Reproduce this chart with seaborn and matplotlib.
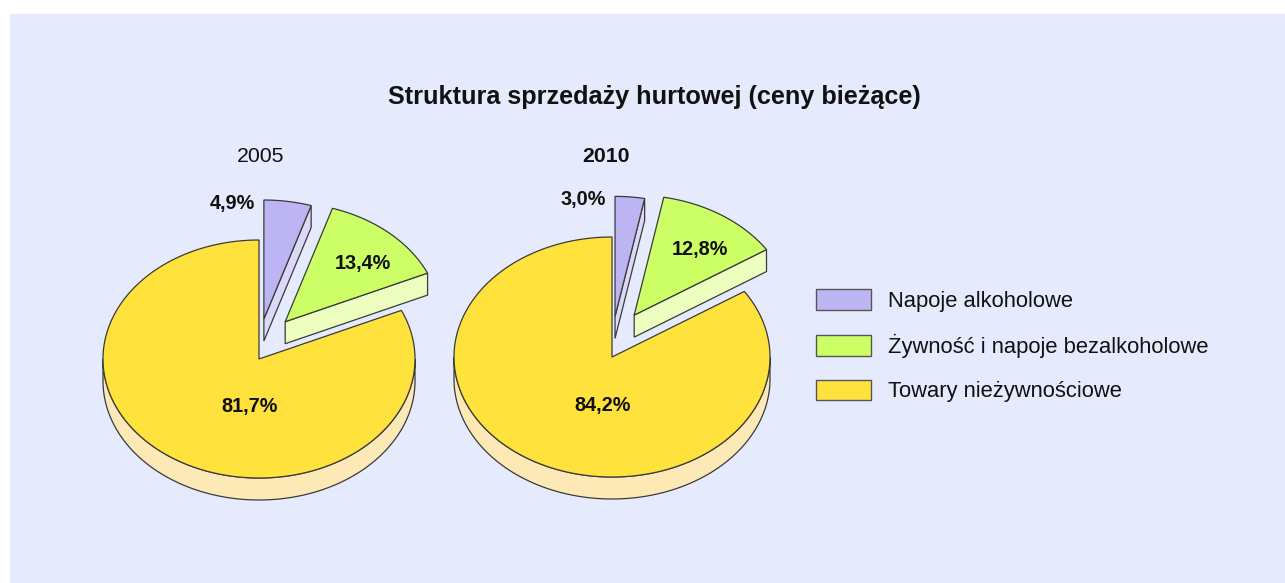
import numpy as np
import matplotlib
matplotlib.use("Agg")
import matplotlib.pyplot as plt
from matplotlib.patches import Polygon, Rectangle, Patch
import seaborn as sns

# ---- data ----
categories = ["Napoje alkoholowe", "Żywność i napoje bezalkoholowe", "Towary nieżywnościowe"]
years = ["2005", "2010"]
values_2005 = [4.9, 13.4, 81.7]
values_2010 = [3.0, 12.8, 84.2]
title = "Struktura sprzedaży hurtowej (ceny bieżące)"

# ---- style ----
sns.set_theme(style="white")
plt.rcParams["font.family"] = ["Liberation Sans", "DejaVu Sans"]

top_colors = ["#bdb5f3", "#ccff66", "#ffe23c"]
side_colors = ["#dcd8f7", "#ecffbf", "#fde9b6"]
edge = "#3a3a3a"
bg = "#e5ebfd"
explode = [0.34, 0.42, 0.0]
x_explode_scale = 0.6

W, H = 1285, 583
fig = plt.figure(figsize=(W / 100, H / 100), dpi=100, facecolor="white")
ax = fig.add_axes([0, 0, 1, 1])
ax.set_xlim(0, W)
ax.set_ylim(H, 0)
ax.axis("off")
ax.add_patch(Rectangle((10, 14), W - 10, H - 14, facecolor=bg, edgecolor="none", zorder=0))


def draw_pie(cx, cy, rx, ry, depth, values, year_bold, year):
    vals = np.asarray(values, float)
    frac = vals / vals.sum()
    bounds = np.concatenate([[0], np.cumsum(frac)]) * 360.0
    z = 2
    shifted = []
    for i, v in enumerate(vals):
        a0, a1 = bounds[i], bounds[i + 1]
        mid = np.radians((a0 + a1) / 2)
        ox = cx + explode[i] * rx * np.sin(mid) * x_explode_scale
        oy = cy - explode[i] * ry * np.cos(mid)
        shifted.append((ox, oy))

        def P(theta_deg, dy=0.0):
            t = np.radians(theta_deg)
            return np.column_stack([ox + rx * np.sin(t), oy - ry * np.cos(t) + dy])

        # visible outer side (front half 90..270)
        lo, hi = max(a0, 90), min(a1, 270)
        if hi > lo:
            th = np.linspace(lo, hi, 120)
            poly = np.vstack([P(th), P(th[::-1], depth)])
            ax.add_patch(Polygon(poly, closed=True, facecolor=side_colors[i],
                                 edgecolor=edge, lw=0.9, zorder=z))
        # radial faces
        c = np.array([[ox, oy]])
        if np.sin(np.radians(a0)) < -1e-9:
            p = P(np.array([a0]))
            poly = np.vstack([c, p, p + [0, depth], c + [0, depth]])
            ax.add_patch(Polygon(poly, closed=True, facecolor=side_colors[i],
                                 edgecolor=edge, lw=0.9, zorder=z))
        if np.sin(np.radians(a1)) > 1e-9:
            p = P(np.array([a1]))
            poly = np.vstack([c, p, p + [0, depth], c + [0, depth]])
            ax.add_patch(Polygon(poly, closed=True, facecolor=side_colors[i],
                                 edgecolor=edge, lw=0.9, zorder=z))
        # top face
        th = np.linspace(a0, a1, max(int((a1 - a0) * 2), 10))
        poly = np.vstack([c, P(th)])
        ax.add_patch(Polygon(poly, closed=True, facecolor=top_colors[i],
                             edgecolor=edge, lw=0.9, zorder=z + 1))
        z += 2

    lab = [f"{v:.1f}".replace(".", ",") + "%" for v in vals]
    fs = 14.3
    # small slice: label outside, left of its top corner
    ox, oy = shifted[0]
    ax.text(ox - 9, oy - ry + 3, lab[0], ha="right", va="center",
            fontsize=fs, fontweight="bold", color="#111111", zorder=20)
    # middle slice: inside at mid-angle
    ox, oy = shifted[1]
    mid = np.radians((bounds[1] + bounds[2]) / 2)
    ax.text(ox + 0.75 * rx * np.sin(mid), oy - 0.66 * ry * np.cos(mid), lab[1],
            ha="center", va="center", fontsize=fs, fontweight="bold",
            color="#111111", zorder=20)
    # large slice
    ox, oy = shifted[2]
    ax.text(ox - 0.06 * rx, oy + 0.40 * ry, lab[2], ha="center", va="center",
            fontsize=fs, fontweight="bold", color="#111111", zorder=20)
    # year
    ax.text(cx + 2 if not year_bold else cx - 6, 157, year, ha="center", va="center",
            fontsize=15.3, fontweight="bold" if year_bold else "normal",
            color="#111111", zorder=20)


draw_pie(259, 359, 156, 119, 22, values_2005, False, years[0])
draw_pie(612, 357, 158, 120, 22, values_2010, True, years[1])

ax.text(654, 97, title, ha="center", va="center", fontsize=18.2,
        fontweight="bold", color="#111111")

handles = [Patch(facecolor=c, edgecolor="#555555", lw=1.0) for c in top_colors]
leg = ax.legend(handles, categories, loc="upper left", bbox_to_anchor=(812, 285),
                bbox_transform=ax.transData, frameon=False, fontsize=15.8,
                handlelength=2.47, handleheight=1.05, handletextpad=0.78,
                labelspacing=0.99, borderaxespad=0, borderpad=0.2)
for t in leg.get_texts():
    t.set_color("#111111")

fig.savefig("out.png", dpi=100, facecolor="white")
